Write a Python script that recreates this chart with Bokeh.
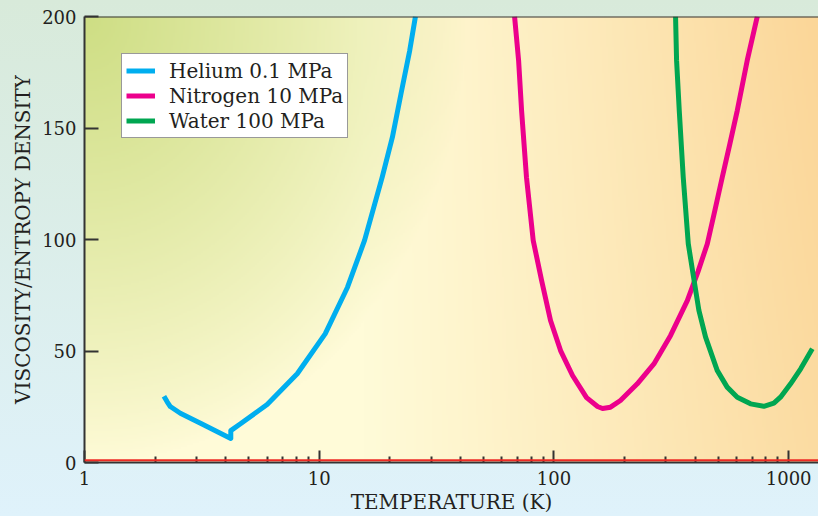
import numpy as np
from bokeh.plotting import figure
from bokeh.models import Range1d, FixedTicker, Span, Legend, LegendItem
from bokeh.embed import file_html
from bokeh.resources import INLINE

# ---- data ----
he_T = [2.18, 2.25, 2.32, 2.56, 3.12, 4.2, 4.2, 4.62, 6.0, 8.06, 10.6, 13.2, 15.6, 18.55,
        20.5, 22.3, 24.3, 25.7]
he_v = [29.7, 27.2, 25.1, 22.1, 17.6, 10.8, 14.3, 17.4, 26.0, 39.8, 57.7, 78.6, 99.6, 128.0,
        145.9, 165.3, 184.8, 200.0]

n2_T = [67.96, 70.7, 72.8, 76.4, 81.6, 88.6, 96.7, 106.7, 120.0, 137.7, 153.4, 161.1, 174.2,
        192, 205.2, 226.5, 266.6, 314, 370, 411, 450, 484.8, 521.3, 561.7, 604, 666, 735]
n2_v = [200.0, 180.3, 157.8, 127.8, 99.6, 81.6, 63.7, 50.2, 39.0, 29.1, 25.1, 24.2, 24.8,
        27.8, 30.8, 35.3, 44.2, 57.0, 72.6, 85.6, 98.0, 113.0, 127.9, 142.9, 157.8, 180.3, 200.0]

w_T = [329.7, 333.0, 341.9, 355.5, 373.5, 393.4, 414.5, 442.6, 496, 547, 604, 688, 784, 865,
       923, 1019, 1125, 1261]
w_v = [200.0, 180.3, 157.8, 127.9, 98.1, 83.1, 68.2, 56.2, 41.3, 33.8, 29.3, 26.3, 25.2, 26.6,
       29.3, 35.3, 42.0, 51.0]

bound_v = 1.0

x_ticks = [1, 10, 100, 1000]
x_minor = [2, 3, 4, 5, 6, 7, 8, 9, 20, 30, 40, 50, 60, 70, 80, 90,
           200, 300, 400, 500, 600, 700, 800, 900]
y_ticks = [0, 50, 100, 150, 200]

labels = ["Helium 0.1 MPa", "Nitrogen 10 MPa", "Water 100 MPa"]
colors = ["#00aeef", "#ec008c", "#00a651"]

FONT = "DejaVu Serif"
TXT = "#231f20"

p = figure(width=818, height=516, x_axis_type="log",
           x_range=Range1d(1, 1340), y_range=Range1d(0, 200),
           output_backend="svg", toolbar_location=None,
           min_border_left=84, min_border_right=0, min_border_top=16, min_border_bottom=54)

p.border_fill_alpha = 0
p.background_fill_alpha = 0
p.outline_line_color = None
p.styles = {"background": "linear-gradient(to bottom, #d8eada, #dff2fb)"}
p.grid.visible = False

# plot-area gradient background
W, H = 367, 223
xf = np.linspace(0, 1, W)[None, :]
yf_top = 1 - np.linspace(0, 1, H)[:, None]  # row 0 is bottom
base = np.array([255, 251, 216], float)
green = np.array([206, 222, 132], float)
orange = np.array([251, 214, 152], float)
wg = np.clip(1 - np.sqrt((xf / 0.52) ** 2 + (yf_top / 1.0) ** 2), 0, 1) ** 0.85
wo = np.clip((xf - 0.38) / 0.62, 0, 1) ** 1.1 * (0.85 + 0.15 * (1 - yf_top))
col = base[None, None, :] * (1 - wg - wo)[..., None] + green * wg[..., None] + orange * wo[..., None]
img = np.empty((H, W), dtype=np.uint32)
view = img.view(dtype=np.uint8).reshape((H, W, 4))
view[..., 0] = np.clip(col[..., 0], 0, 255)
view[..., 1] = np.clip(col[..., 1], 0, 255)
view[..., 2] = np.clip(col[..., 2], 0, 255)
view[..., 3] = 255
p.image_rgba(image=[img], x=1, y=0, dw=1339, dh=200)

# bound line
p.add_layout(Span(location=bound_v, dimension="width", line_color="#ee2a24", line_width=2))
# top border
p.add_layout(Span(location=200, dimension="width", line_color="#333333", line_width=2))

r1 = p.line(he_T, he_v, line_color=colors[0], line_width=5, line_join="round")
r2 = p.line(n2_T, n2_v, line_color=colors[1], line_width=5, line_join="round")
r3 = p.line(w_T, w_v, line_color=colors[2], line_width=5, line_join="round")

legend = Legend(items=[LegendItem(label=labels[0], renderers=[r1]),
                       LegendItem(label=labels[1], renderers=[r2]),
                       LegendItem(label=labels[2], renderers=[r3])],
                location="top_left", margin=37, padding=4, spacing=0,
                label_standoff=14, glyph_width=29, glyph_height=25, label_height=25,
                label_text_font=FONT, label_text_font_size="20px", label_text_color=TXT,
                border_line_color="#333333", border_line_width=1.5,
                background_fill_color="white", background_fill_alpha=1)
p.add_layout(legend)

for ax in (p.xaxis[0], p.yaxis[0]):
    ax.axis_line_color = "#333333"
    ax.axis_line_width = 2
    ax.major_tick_line_color = "#333333"
    ax.major_tick_line_width = 2
    ax.minor_tick_line_color = "#333333"
    ax.minor_tick_line_width = 2
    ax.major_tick_out = 0
    ax.minor_tick_out = 0
    ax.major_label_text_font = FONT
    ax.major_label_text_font_size = "18px"
    ax.major_label_text_color = TXT
    ax.axis_label_text_font = FONT
    ax.axis_label_text_font_size = "20px"
    ax.axis_label_text_font_style = "normal"
    ax.axis_label_text_color = TXT

p.xaxis.ticker = FixedTicker(ticks=x_ticks, minor_ticks=x_minor)
p.xaxis.major_label_overrides = {t: str(t) for t in x_ticks}
p.xaxis.major_tick_in = 12
p.xaxis.minor_tick_in = 6
p.xaxis.major_label_standoff = 8
p.xaxis.axis_label = "TEMPERATURE (K)"
p.xaxis.axis_label_standoff = 2

p.yaxis.ticker = FixedTicker(ticks=y_ticks)
p.yaxis.major_tick_in = 14
p.yaxis.minor_tick_in = 0
p.yaxis.minor_tick_line_color = None
p.yaxis.major_label_standoff = 8
p.yaxis.axis_label = "VISCOSITY/ENTROPY DENSITY"
p.yaxis.axis_label_standoff = 4

open("out.html", "w").write(file_html(p, INLINE))
